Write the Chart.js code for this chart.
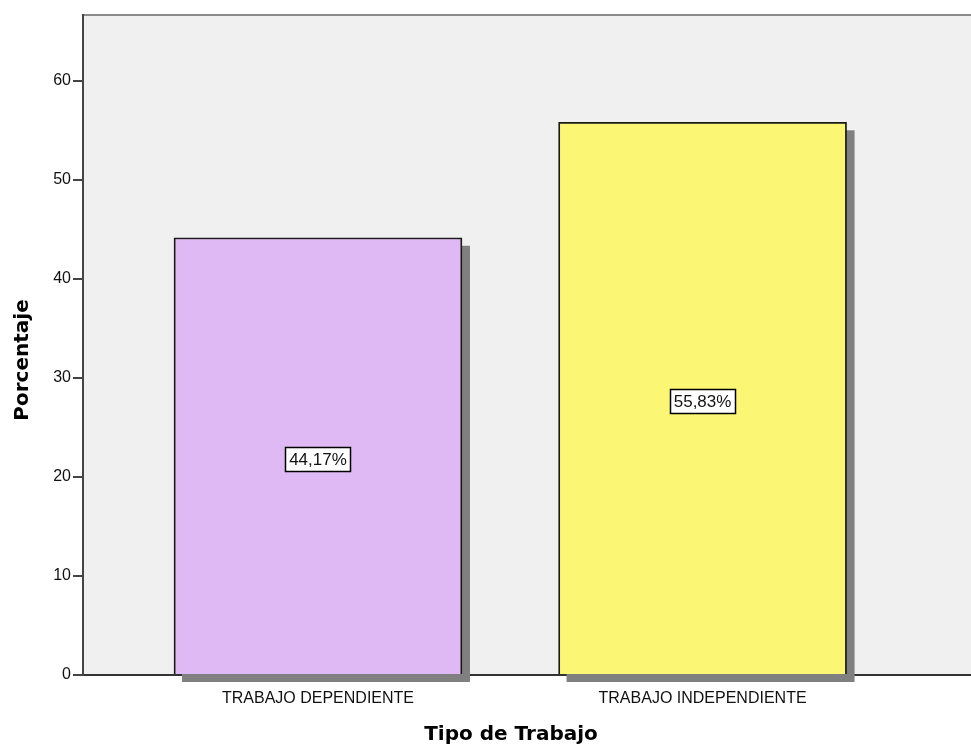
<!DOCTYPE html>
<html>
<head>
<meta charset="utf-8">
<script src="https://cdn.jsdelivr.net/npm/chart.js@4"></script>
<style>
  html, body { margin: 0; padding: 0; background: #ffffff; }
  #wrap { width: 971px; height: 749px; }
</style>
</head>
<body>
<div id="wrap"><canvas id="c" width="971" height="749"></canvas></div>
<script>
const categories = ['TRABAJO DEPENDIENTE', 'TRABAJO INDEPENDIENTE'];
const percentages = [44.17, 55.83];
const barColors = ['#DFB9F3', '#FBF673'];
const yTickValues = [0, 10, 20, 30, 40, 50, 60];
const yAxisTitle = 'Porcentaje';
const xAxisTitle = 'Tipo de Trabajo';

const bgPlugin = {
  id: 'bg',
  beforeDraw(chart) {
    const { ctx, chartArea: a } = chart;
    ctx.save();
    ctx.fillStyle = '#F0F0F0';
    ctx.fillRect(a.left, a.top, a.right - a.left, a.bottom - a.top);
    ctx.strokeStyle = '#8a8a8a';
    ctx.lineWidth = 2;
    ctx.beginPath();
    ctx.moveTo(a.left, a.top);
    ctx.lineTo(a.right, a.top);
    ctx.stroke();
    ctx.restore();
  }
};

const shadowPlugin = {
  id: 'shadow',
  beforeDatasetsDraw(chart) {
    const { ctx } = chart;
    const meta = chart.getDatasetMeta(0);
    ctx.save();
    ctx.fillStyle = '#808080';
    meta.data.forEach(el => {
      const p = el.getProps(['x', 'y', 'base', 'width'], true);
      ctx.fillRect(p.x - p.width / 2 + 8, p.y + 8, p.width, p.base - p.y);
    });
    ctx.restore();
  }
};

const labelPlugin = {
  id: 'barLabels',
  afterDatasetsDraw(chart) {
    const { ctx } = chart;
    const meta = chart.getDatasetMeta(0);
    const ds = chart.data.datasets[0];
    ctx.save();
    ctx.font = '17px "Liberation Sans", Arial, sans-serif';
    ctx.textAlign = 'center';
    ctx.textBaseline = 'middle';
    meta.data.forEach((el, i) => {
      const p = el.getProps(['x', 'y', 'base'], true);
      const v = ds.data[i].y;
      const txt = v.toFixed(2).replace('.', ',') + '%';
      const w = Math.round(ctx.measureText(txt).width + 7);
      const h = 24;
      const cx = p.x, cy = (p.y + p.base) / 2 + 3;
      const lx = Math.round(cx - w / 2) + 0.5, ty = Math.round(cy - h / 2) + 0.5;
      ctx.fillStyle = '#ffffff';
      ctx.fillRect(lx, ty, w, h);
      ctx.strokeStyle = '#000000';
      ctx.lineWidth = 1.5;
      ctx.strokeRect(lx, ty, w, h);
      ctx.fillStyle = '#111111';
      ctx.fillText(txt, cx, cy + 1);
    });
    ctx.restore();
  }
};

const titlePlugin = {
  id: 'axisTitles',
  afterDraw(chart) {
    const { ctx } = chart;
    ctx.save();
    ctx.fillStyle = '#000000';
    ctx.font = 'bold 20px "DejaVu Sans", Verdana, sans-serif';
    ctx.textAlign = 'center';
    ctx.textBaseline = 'middle';
    ctx.fillText(xAxisTitle, 511, 735);
    ctx.translate(23, 360);
    ctx.rotate(-Math.PI / 2);
    ctx.fillText(yAxisTitle, 0, 0);
    ctx.restore();
  }
};

new Chart(document.getElementById('c'), {
  type: 'bar',
  data: {
    datasets: [{
      data: categories.map((c, i) => ({ x: i, y: percentages[i] })),
      backgroundColor: barColors,
      borderColor: '#1a1a1a',
      borderWidth: 1.8,
      barThickness: 288
    }]
  },
  plugins: [bgPlugin, shadowPlugin, labelPlugin, titlePlugin],
  options: {
    responsive: false,
    animation: false,
    events: [],
    layout: { padding: { top: 15, right: 0, left: 0, bottom: 0 } },
    plugins: { legend: { display: false }, tooltip: { enabled: false } },
    scales: {
      x: {
        type: 'linear',
        offset: false,
        min: -0.611,
        max: 1.698,
        z: 1,
        afterBuildTicks(scale) { scale.ticks = categories.map((c, i) => ({ value: i })); },
        afterFit(scale) { scale.height = 74; },
        ticks: {
          callback: (v) => categories[v],
          font: { family: '"Liberation Sans", Arial, sans-serif', size: 16 },
          color: '#111111',
          padding: 8,
          maxRotation: 0,
          autoSkip: false
        },
        grid: { offset: false, drawOnChartArea: false, drawTicks: true, tickLength: 6, color: '#333333', lineWidth: 1 },
        border: { color: '#333333', width: 2 }
      },
      y: {
        min: 0,
        max: 66.67,
        z: 1,
        afterBuildTicks(scale) { scale.ticks = yTickValues.map(v => ({ value: v })); },
        afterFit(scale) { scale.width = 83; },
        ticks: {
          font: { family: '"Liberation Sans", Arial, sans-serif', size: 16 },
          color: '#111111',
          padding: 2
        },
        grid: { drawOnChartArea: false, drawTicks: true, tickLength: 10, color: '#444444', lineWidth: 2 },
        border: { color: '#444444', width: 2 }
      }
    }
  }
});
</script>
</body>
</html>
